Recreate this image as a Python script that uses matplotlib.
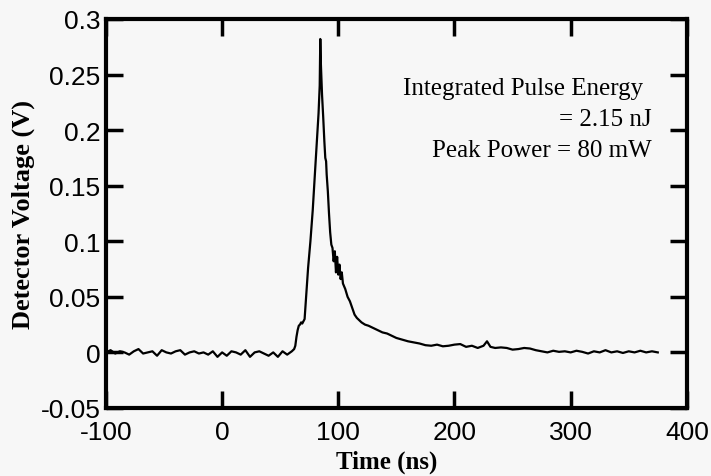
import numpy as np
import matplotlib.pyplot as plt

plt.rcParams['axes.unicode_minus'] = False

# baseline before the pulse, every 4 ns from -100 to 60
base_t = list(range(-100, 61, 4))
base_v = [0.000, 0.002, -0.001, 0.001, 0.000, -0.002, 0.001, 0.003, -0.001, 0.000,
          0.001, -0.003, 0.002, 0.000, -0.001, 0.001, 0.002, -0.002, 0.000, 0.001,
          -0.001, 0.000, -0.002, 0.001, -0.004, 0.000, -0.003, 0.001, 0.000, -0.002,
          0.002, -0.004, 0.000, 0.001, -0.001, -0.003, 0.000, -0.004, 0.001, -0.002,
          0.001]

# rising edge and peak
rise_t = [62, 63, 64, 65, 66, 67, 68, 69, 70, 71, 72, 73, 74, 75, 76, 77, 78, 79,
          80, 81, 82, 83, 84, 84.5]
rise_v = [0.003, 0.006, 0.014, 0.020, 0.024, 0.025, 0.027, 0.026, 0.028, 0.030,
          0.045, 0.060, 0.076, 0.088, 0.100, 0.114, 0.128, 0.146, 0.163, 0.180,
          0.196, 0.215, 0.240, 0.282]

# decay after the peak
fall_t = [85, 86, 87, 88, 88.8, 89.5, 90, 91, 92, 93, 94, 95, 96, 97, 98, 99, 100,
          101, 102, 103, 104, 106, 108, 110, 112, 114, 116, 118, 120, 123, 126, 130,
          134, 138, 142, 146, 150, 155, 160, 165, 170, 175, 180, 185, 190, 195, 200,
          205, 210, 215, 220, 225, 228, 231, 235, 240, 245, 250, 255, 260, 265, 270,
          275, 280, 285, 290, 295, 300, 305, 310, 315, 320, 325, 330, 335, 340, 345,
          350, 355, 360, 365, 370, 375]
fall_v = [0.260, 0.232, 0.212, 0.190, 0.175, 0.172, 0.160, 0.145, 0.125, 0.108,
          0.097, 0.094, 0.082, 0.091, 0.072, 0.086, 0.070, 0.079, 0.066, 0.072,
          0.062, 0.057, 0.050, 0.046, 0.040, 0.034, 0.031, 0.029, 0.027, 0.025,
          0.024, 0.022, 0.020, 0.018, 0.017, 0.015, 0.013, 0.0115, 0.010, 0.009,
          0.008, 0.0065, 0.006, 0.007, 0.0055, 0.006, 0.007, 0.0075, 0.005, 0.006,
          0.004, 0.006, 0.010, 0.005, 0.004, 0.0045, 0.004, 0.0025, 0.003, 0.004,
          0.0035, 0.002, 0.001, 0.000, 0.0015, 0.0005, 0.001, 0.000, 0.0015, 0.0005,
          -0.001, 0.001, 0.000, 0.002, 0.000, 0.001, -0.0005, 0.001, 0.000, 0.0015,
          0.000, 0.001, 0.000]

t = np.array(base_t + rise_t + fall_t, dtype=float)
v = np.array(base_v + rise_v + fall_v)

x_ticks = [-100, 0, 100, 200, 300, 400]
y_ticks = [-0.05, 0, 0.05, 0.1, 0.15, 0.2, 0.25, 0.3]
y_labels = ['-0.05', '0', '0.05', '0.1', '0.15', '0.2', '0.25', '0.3']

notes = ['Integrated Pulse Energy', '= 2.15 nJ', 'Peak Power = 80 mW']
note_x = [362, 370, 370]
note_y = [0.2324, 0.2045, 0.1769]

bg = '#f7f7f7'
fig = plt.figure(figsize=(7.11, 4.77), dpi=100, facecolor=bg)
ax = fig.add_axes([0.149, 0.1426, 0.817, 0.8155], facecolor=bg)

ax.plot(t, v, color='black', lw=1.6)

ax.set_xlim(-100, 400)
ax.set_ylim(-0.05, 0.3)
ax.set_xticks(x_ticks)
ax.set_xticklabels([str(x) for x in x_ticks])
ax.set_yticks(y_ticks)
ax.set_yticklabels(y_labels)

for s in ax.spines.values():
    s.set_linewidth(3)
ax.tick_params(direction='in', length=12, width=2.5, top=True, right=True,
               labelsize=19, colors='black')
ax.tick_params(axis='x', pad=9)
ax.tick_params(axis='y', pad=4)
for lab in ax.get_xticklabels() + ax.get_yticklabels():
    lab.set_family('Liberation Sans')

ax.set_xlabel('Time (ns)', family='Liberation Serif', fontweight='bold', fontsize=18)
ax.set_ylabel('Detector Voltage (V)', family='Liberation Serif', fontweight='bold',
              fontsize=19)
ax.xaxis.set_label_coords(0.483, -0.108)
ax.yaxis.set_label_coords(-0.122, 0.5)

for x, y, s in zip(note_x, note_y, notes):
    ax.text(x, y, s, ha='right', va='baseline', family='Liberation Serif',
            fontsize=18)

fig.savefig('out.png', dpi=100, facecolor=bg)
